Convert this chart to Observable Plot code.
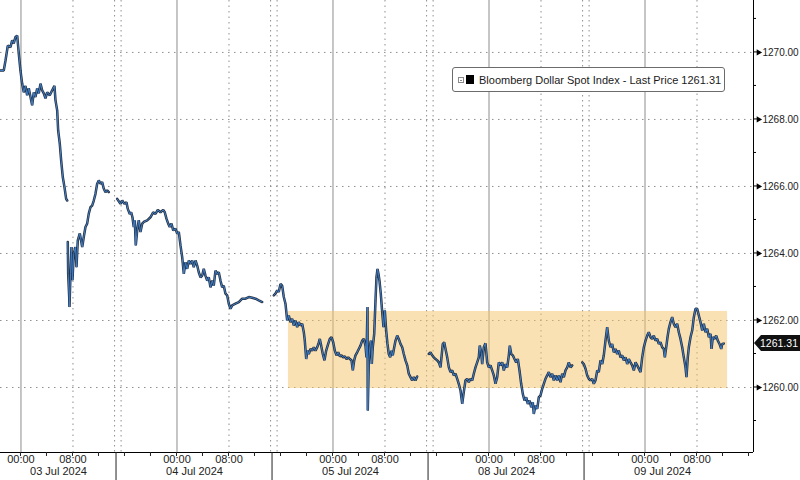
<!DOCTYPE html>
<html><head><meta charset="utf-8">
<script src="https://cdn.jsdelivr.net/npm/d3@7"></script>
<script src="https://cdn.jsdelivr.net/npm/@observablehq/plot@0.6"></script>
<style>
html,body{margin:0;padding:0;background:#fff;}
#wrap{position:relative;width:800px;height:480px;overflow:hidden;}
#legend{position:absolute;left:452px;top:67px;width:273px;height:25px;border:1px solid #6b6b6b;border-radius:3px;background:#fff;font:11px "Liberation Sans",Arial,sans-serif;color:#1a1a1a;display:flex;align-items:center;padding-left:5px;box-sizing:border-box;white-space:nowrap;}
.mini{display:inline-block;width:6px;height:6px;border:1px solid #8a8a8a;position:relative;margin-right:2px;box-sizing:border-box}
.mini:after{content:"";position:absolute;left:1px;right:1px;top:2px;height:1px;background:#8a8a8a}
.sq{display:inline-block;width:8px;height:9px;background:#000;margin-right:5px}
</style></head><body>
<div id="wrap"><div id="legend"><span class="mini"></span><span class="sq"></span><span id="legtext"></span></div></div>
<script>
// x = trading hours since 03 Jul 2024 00:00 (weekend removed), y = index level
const seriesName = "Bloomberg Dollar Spot Index - Last Price";
const days = ["03 Jul 2024","04 Jul 2024","05 Jul 2024","08 Jul 2024","09 Jul 2024"];
const dayStart = [0, 24, 48, 72, 96];
const sessionBreak = [14.7, 38.7, 62.7, 86.7];
const timeTicks = [0, 8, 24, 32, 48, 56, 72, 80, 96, 104];
const yTicks = [1260, 1262, 1264, 1266, 1268, 1270];
const yMinor = [1259, 1261, 1263, 1265, 1267, 1269, 1271];
const xDomain = [-3.15, 112.69];
const yDomain = [1258.06, 1271.55];
const rangeBox = {x1: 41.15, x2: 108.7, y1: 1259.97, y2: 1262.27};

const segA = [[-3.15,1269.46],[-2.65,1269.46],[-2.38,1269.76],[-2.03,1270.2],[-1.62,1270.16],[-1.35,1270.36],[-1.11,1270.27],[-0.85,1270.46],[-0.58,1270.5],[-0.34,1269.97],[-0.08,1269.46],[0.18,1269.07],[0.43,1268.81],[0.69,1269.0],[0.95,1268.72],[1.2,1268.93],[1.72,1268.42],[1.97,1268.81],[2.23,1268.67],[2.49,1268.92],[2.74,1268.78],[3.0,1269.07],[3.26,1268.87],[3.51,1268.78],[3.77,1268.63],[4.03,1268.81],[4.43,1268.72],[4.8,1268.87],[5.15,1269.0],[5.31,1268.57],[5.57,1268.27],[5.72,1267.67],[5.97,1267.28],[6.18,1266.78],[6.43,1266.28],[6.69,1265.98],[6.95,1265.63],[7.11,1265.58]];
const segB = [[7.2,1264.34],[7.26,1263.4],[7.42,1262.7],[7.46,1262.4],[7.62,1263.4],[7.77,1264.19],[7.92,1263.2],[8.12,1264.0],[8.38,1264.19],[8.54,1263.59],[8.74,1264.39],[9.05,1264.6],[9.42,1264.19],[9.66,1264.49],[9.92,1264.79],[10.18,1264.89],[10.43,1265.19],[10.69,1265.38],[10.95,1265.43],[11.2,1265.58],[11.46,1265.78],[11.72,1266.08],[11.97,1266.18],[12.23,1266.08],[12.49,1266.13],[12.74,1265.93],[13.0,1265.83],[13.26,1265.88],[13.51,1265.83]];
const segC = [[14.8,1265.63],[15.31,1265.48],[15.57,1265.58],[15.92,1265.48],[16.23,1265.53],[16.43,1265.33],[16.74,1265.18],[16.95,1265.23],[17.15,1265.08],[17.35,1264.79],[17.51,1264.99],[17.66,1264.24],[17.88,1264.69],[18.12,1264.99],[18.38,1264.64],[18.65,1264.89],[18.89,1264.94],[19.42,1264.99],[19.92,1265.08],[20.34,1265.23],[20.69,1265.18],[21.05,1265.3],[21.46,1265.23],[21.88,1265.3],[22.12,1265.23],[22.38,1265.04],[22.65,1264.89],[22.89,1264.79],[23.15,1264.89],[23.42,1264.69],[23.77,1264.74],[24.03,1264.59],[24.28,1264.64],[24.54,1264.24],[24.8,1263.89],[25.05,1263.39],[25.31,1263.74],[25.57,1263.54],[25.82,1263.79],[26.08,1263.69],[26.34,1263.79],[26.58,1263.59],[26.85,1263.79],[27.11,1263.64],[27.35,1263.44],[27.62,1263.29],[27.88,1263.34],[28.12,1263.54],[28.38,1263.34],[28.65,1263.19],[28.89,1263.29],[29.15,1262.99],[29.42,1263.19],[29.66,1263.04],[29.92,1263.49],[30.18,1263.39],[30.43,1263.44],[30.69,1263.19],[30.95,1262.99],[31.2,1263.04],[31.46,1262.8],[31.72,1262.75],[31.97,1262.5],[32.23,1262.35],[32.49,1262.45],[33.0,1262.5],[33.51,1262.55],[34.03,1262.65],[34.54,1262.65],[35.05,1262.7],[35.57,1262.68],[36.08,1262.65],[36.58,1262.6],[37.11,1262.55]];
const segD = [[38.89,1262.75],[39.15,1262.8],[39.42,1262.9],[39.66,1262.85],[39.92,1263.09],[40.18,1263.04],[40.43,1262.7],[40.69,1262.5],[40.95,1262.0],[41.2,1262.15],[41.46,1261.95],[41.72,1262.05],[41.97,1261.85],[42.23,1262.0],[42.49,1261.8],[42.74,1261.95],[43.0,1261.85],[43.26,1261.9],[43.51,1261.65],[43.66,1261.4],[43.88,1260.85],[44.08,1261.1],[44.28,1261.0],[44.54,1261.15],[44.8,1261.1],[45.05,1261.2],[45.31,1261.1],[45.57,1261.2],[45.82,1261.35],[45.97,1261.45],[46.18,1261.25],[46.43,1261.0],[46.69,1260.81],[46.95,1261.1],[47.26,1261.3],[47.51,1261.45],[47.77,1261.5],[48.03,1261.35],[48.28,1261.1],[48.54,1260.96],[48.8,1261.05],[49.05,1260.93],[49.31,1260.96],[49.57,1260.9],[49.82,1260.93],[50.08,1260.85],[50.34,1260.9],[50.58,1260.85],[50.85,1260.81],[51.05,1260.51],[51.26,1260.81],[51.46,1260.96],[51.72,1261.05],[51.97,1261.15],[52.23,1261.25],[52.49,1261.4],[52.74,1261.45],[53.0,1261.25],[53.15,1260.9],[53.31,1262.4],[53.35,1259.31],[53.51,1260.81],[53.66,1261.2],[53.82,1261.4],[53.97,1260.7],[54.12,1261.2],[54.34,1261.6],[54.54,1262.6],[54.69,1263.29],[54.85,1263.54],[55.0,1263.39],[55.15,1263.19],[55.35,1262.8],[55.57,1262.25],[55.77,1261.8],[55.97,1262.3],[56.18,1261.7],[56.38,1261.3],[56.58,1261.0],[56.8,1260.9],[57.0,1261.1],[57.2,1260.96],[57.42,1261.2],[57.62,1261.4],[57.88,1261.55],[58.12,1261.45],[58.38,1261.3],[58.65,1261.2],[58.89,1261.0],[59.15,1260.81],[59.42,1260.66],[59.66,1260.41],[59.92,1260.31],[60.18,1260.21],[60.43,1260.31],[60.69,1260.21],[60.95,1260.33]];
const segE = [[62.74,1261.0],[63.0,1261.05],[63.26,1260.96],[63.51,1260.9],[63.77,1260.85],[64.03,1260.81],[64.28,1260.75],[64.54,1260.6],[64.69,1260.9],[64.89,1261.3],[65.11,1261.35],[65.31,1261.15],[65.57,1260.9],[65.82,1260.6],[66.08,1260.46],[66.34,1260.51],[66.58,1260.36],[66.85,1260.41],[67.11,1260.26],[67.35,1260.11],[67.62,1259.91],[67.88,1259.51],[68.12,1259.86],[68.38,1260.21],[68.65,1260.26],[68.89,1260.16],[69.15,1260.26],[69.42,1260.21],[69.66,1260.41],[69.92,1260.6],[70.18,1260.75],[70.43,1260.9],[70.58,1261.25],[70.8,1261.05],[70.95,1260.7],[71.2,1261.2],[71.46,1261.32],[71.72,1260.75],[71.97,1260.6],[72.23,1260.66],[72.49,1260.51],[72.74,1260.36],[73.0,1260.11],[73.26,1260.31],[73.51,1260.75],[73.77,1260.66],[74.03,1260.75],[74.28,1260.51],[74.54,1260.7],[74.8,1260.6],[75.05,1260.96],[75.2,1261.25],[75.42,1261.0],[75.66,1260.96],[75.92,1260.85],[76.18,1260.75],[76.43,1260.85],[76.69,1260.51],[76.95,1260.11],[77.2,1259.81],[77.46,1259.61],[77.72,1259.71],[77.97,1259.51],[78.23,1259.61],[78.49,1259.41],[78.74,1259.56],[78.89,1259.21],[79.15,1259.46],[79.42,1259.36],[79.66,1259.71],[79.92,1259.76],[80.18,1259.96],[80.43,1260.11],[80.69,1260.26],[80.95,1260.36],[81.2,1260.46],[81.46,1260.31],[81.72,1260.41],[81.97,1260.21],[82.23,1260.36],[82.49,1260.21],[82.74,1260.36],[83.0,1260.16],[83.26,1260.41],[83.51,1260.31],[83.77,1260.51],[84.03,1260.6],[84.28,1260.75],[84.54,1260.6],[84.8,1260.66]];
const segF = [[86.34,1260.75],[86.58,1260.7],[86.85,1260.56],[87.11,1260.36],[87.35,1260.26],[87.62,1260.21],[87.88,1260.26],[88.12,1260.11],[88.38,1260.21],[88.65,1260.51],[88.89,1260.46],[89.15,1260.81],[89.42,1260.7],[89.66,1260.96],[89.92,1261.4],[90.18,1261.8],[90.43,1261.4],[90.69,1261.2],[90.95,1261.3],[91.2,1261.05],[91.46,1261.15],[91.72,1261.0],[91.97,1261.1],[92.23,1260.9],[92.49,1260.96],[92.74,1260.81],[93.0,1260.9],[93.26,1260.7],[93.51,1260.85],[93.77,1260.75],[94.03,1260.66],[94.28,1260.51],[94.54,1260.75],[94.8,1260.66],[95.05,1260.56],[95.31,1260.46],[95.57,1260.9],[95.82,1261.2],[96.08,1261.4],[96.34,1261.55],[96.58,1261.65],[96.85,1261.5],[97.11,1261.45],[97.35,1261.55],[97.62,1261.4],[97.88,1261.45],[98.12,1261.3],[98.38,1261.35],[98.65,1261.2],[98.89,1261.15],[99.05,1260.9],[99.26,1261.2],[99.46,1261.5],[99.66,1261.75],[99.92,1261.95],[100.18,1262.1],[100.43,1261.9],[100.69,1261.8],[100.95,1261.9],[101.2,1261.65],[101.46,1261.45],[101.72,1261.2],[101.97,1260.9],[102.23,1260.6],[102.38,1260.31],[102.58,1260.9],[102.74,1261.2],[103.0,1261.5],[103.26,1261.7],[103.51,1262.1],[103.77,1262.35],[104.03,1262.35],[104.28,1262.15],[104.54,1261.95],[104.8,1261.7],[105.05,1261.9],[105.31,1261.65],[105.57,1261.75],[105.82,1261.5],[106.08,1261.6],[106.23,1261.15],[106.43,1261.5],[106.69,1261.45],[106.95,1261.55],[107.2,1261.4],[107.46,1261.3],[107.72,1261.15],[107.88,1261.3],[108.12,1261.31]];

const segments = [segA, segB, segC, segD, segE, segF];
const rows = segments.flatMap((s, i) => s.map(([h, p]) => ({h, p, seg: i})));
const lastPrice = segF[segF.length - 1][1];
document.getElementById("legtext").textContent = seriesName + " " + lastPrice.toFixed(2);

const fmtTime = h => String(h % 24).padStart(2, "0") + ":00";
const dateLabels = days.map((label, i) => {
  const lo = i === 0 ? xDomain[0] : sessionBreak[i - 1];
  const hi = i < sessionBreak.length ? sessionBreak[i] : sessionBreak[i - 1] + 24;
  return {label, c: (lo + hi) / 2};
});
const midnight = timeTicks.filter(h => h % 24 === 0);
const morning = timeTicks.filter(h => h % 24 !== 0);
const breakLines = sessionBreak.flatMap(b => [b - 0.3, b + 0.7]);
const minorX = d3.range(0, xDomain[1], 4);

const chart = Plot.plot({
  width: 800, height: 480,
  marginLeft: 0, marginRight: 47, marginTop: 0, marginBottom: 28,
  x: {domain: xDomain, axis: null},
  y: {domain: yDomain, axis: null},
  style: {fontFamily: '"Liberation Sans", Arial, sans-serif', background: "#fff", overflow: "visible"},
  marks: [
    Plot.ruleY(yTicks, {stroke: "#8f8f8f", strokeDasharray: "1.5,4.5"}),
    Plot.ruleX(midnight, {stroke: "#8c8c8c"}),
    Plot.ruleX(morning, {stroke: "#8f8f8f", strokeDasharray: "1.5,4"}),
    Plot.ruleX(breakLines, {stroke: "#8f8f8f", strokeDasharray: "1.5,3.5"}),
    Plot.rect([rangeBox], {x1: "x1", x2: "x2", y1: "y1", y2: "y2", fill: "#f5c46a", fillOpacity: 0.5}),
    Plot.line(rows, {x: "h", y: "p", z: "seg", stroke: "#1a2535", strokeWidth: 2.5, strokeLinejoin: "bevel", strokeOpacity: 0.95}),
    Plot.line(rows, {x: "h", y: "p", z: "seg", stroke: "#3f7fcb", strokeWidth: 1.0, strokeLinejoin: "bevel"}),
    Plot.ruleX([xDomain[1]], {stroke: "#000"}),
    Plot.ruleY([yDomain[0]], {stroke: "#000"}),
    Plot.text(yTicks, {y: d => d, text: d => d.toFixed(2), frameAnchor: "right", textAnchor: "start", dx: 9, fontSize: 10, fill: "#222"}),
    Plot.dot(yTicks, {y: d => d, frameAnchor: "right", symbol: "triangle", r: 2.3, rotate: 90, dx: 5, fill: "#000", stroke: "none"}),
    Plot.text(timeTicks, {x: d => d, text: fmtTime, frameAnchor: "bottom", dy: 10, fontSize: 11, fill: "#222"}),
    Plot.text(dateLabels, {x: "c", text: "label", frameAnchor: "bottom", dy: 22, fontSize: 11, fill: "#222"})
  ]
});

const wrap = document.getElementById("wrap");
wrap.insertBefore(chart, wrap.firstChild);

// axis ticks, day separators and last-price tag drawn with the chart's own scales
const sx = chart.scale("x"), sy = chart.scale("y");
const rx = sx.apply(xDomain[1]), by = sy.apply(yDomain[0]);
const g = d3.select(chart).append("g");
g.selectAll(".ymaj").data(yTicks).join("line")
  .attr("x1", rx).attr("x2", rx + 4).attr("y1", d => sy.apply(d)).attr("y2", d => sy.apply(d)).attr("stroke", "#000");
g.selectAll(".ymin").data(yMinor).join("line")
  .attr("x1", rx).attr("x2", rx + 3).attr("y1", d => sy.apply(d)).attr("y2", d => sy.apply(d)).attr("stroke", "#000");
g.selectAll(".xmin").data(minorX).join("line")
  .attr("x1", d => sx.apply(d)).attr("x2", d => sx.apply(d)).attr("y1", by).attr("y2", by + 4).attr("stroke", "#222");
g.selectAll(".sep").data(sessionBreak).join("line")
  .attr("x1", d => sx.apply(d)).attr("x2", d => sx.apply(d)).attr("y1", by).attr("y2", 480).attr("stroke", "#222");
const ly = sy.apply(lastPrice);
g.append("path")
  .attr("d", `M${rx + 1},${ly} L${rx + 8},${ly - 8} H800 V${ly + 8} H${rx + 8} Z`)
  .attr("fill", "#111");
g.append("text").attr("x", rx + 26).attr("y", ly).attr("dy", "0.35em").attr("text-anchor", "middle")
  .attr("fill", "#fff").attr("font-size", 10.5).attr("font-family", '"Liberation Sans", Arial, sans-serif')
  .text(lastPrice.toFixed(2));
</script>
</body></html>
